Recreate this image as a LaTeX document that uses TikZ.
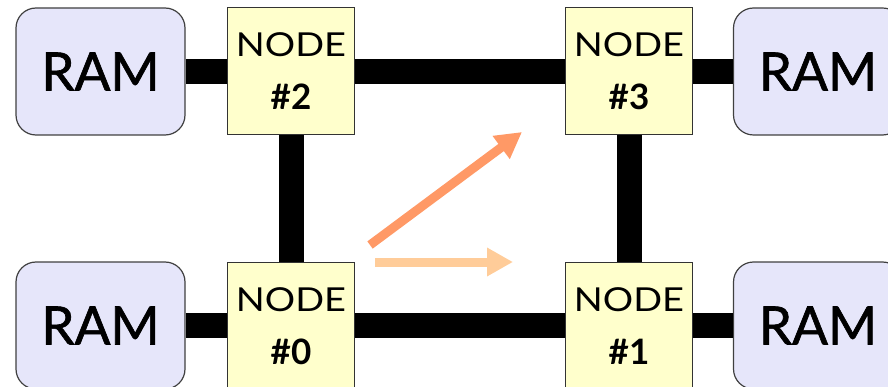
\documentclass[tikz,border=0pt]{standalone}
\usepackage{fontspec}
\setmainfont{Lato}
\newfontfamily\widefont[FakeStretch=1.15]{Lato}
\newfontfamily\heavyfont[FakeBold=1.2]{Lato}
\usetikzlibrary{arrows.meta}
\definecolor{ramfill}{HTML}{E6E6FA}
\definecolor{nodefill}{HTML}{FFFFCC}
\definecolor{hopdiag}{HTML}{FF9966}
\definecolor{hopflat}{HTML}{FFCC99}
\begin{document}
\begin{tikzpicture}[x=1pt,y=-1pt,
  ram/.style={draw=black!75, line width=1.2pt, fill=ramfill, rounded corners=20pt,
    minimum width=169pt, minimum height=127pt, inner sep=0pt,
    font=\heavyfont\fontsize{53}{53}\selectfont},
  cpu/.style={draw=black!80, line width=1pt, fill=nodefill,
    minimum width=127pt, minimum height=127pt, inner sep=0pt},
  cputop/.style={anchor=base, inner sep=0pt, yshift=14.5pt, font=\widefont\fontsize{33}{33}\selectfont},
  cpunum/.style={anchor=base, inner sep=0pt, yshift=-38.5pt, font=\bfseries\fontsize{35}{35}\selectfont},
  link/.style={line width=25pt, black},
  hop/.style={line width=9pt, -{Triangle[length=26pt,width=27pt]}}]
\useasboundingbox (0,0) rectangle (888,387);
\clip (0,0) rectangle (888,387);

% memories
\node[ram] (ramTL) at (100.5,71.5) {RAM};
\node[ram] (ramTR) at (818,71.5) {RAM};
\node[ram] (ramBL) at (100.5,325.5) {RAM};
\node[ram] (ramBR) at (818,325.5) {RAM};

% processor nodes
\node[cpu] (n2) at (291,71.5) {};
\node[cpu] (n3) at (629,71.5) {};
\node[cpu] (n0) at (291,325.5) {};
\node[cpu] (n1) at (629,325.5) {};
\foreach \n in {0,1,2,3} {
  \node[cputop] (n\n a) at (n\n.center) {NODE};
  \node[cpunum] (n\n b) at (n\n.center) {\#\n};
}

% interconnect
\draw[link] (ramTL.east) -- (n2.west);
\draw[link] (n2.east) -- (n3.west);
\draw[link] (n3.east) -- (ramTR.west);
\draw[link] (ramBL.east) -- (n0.west);
\draw[link] (n0.east) -- (n1.west);
\draw[link] (n1.east) -- (ramBR.west);
\draw[link] (n2.south) -- (n0.north);
\draw[link] (n3.south) -- (n1.north);

% message routes
\coordinate (d0) at (370,245);
\coordinate (d1) at (522,132);
\coordinate (f0) at (375,262);
\coordinate (f1) at (513,262);
\draw[hop, hopdiag] (d0) -- (d1);
\draw[hop, hopflat] (f0) -- (f1);
\end{tikzpicture}
\end{document}
